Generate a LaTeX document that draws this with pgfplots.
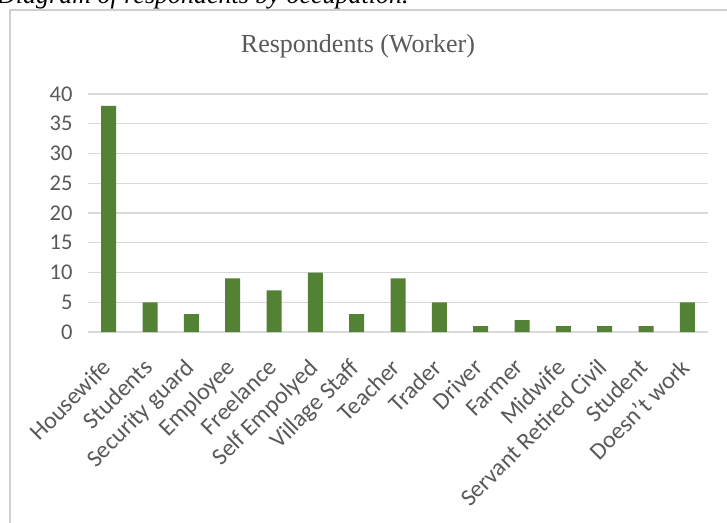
\documentclass[border=0pt]{standalone}
\usepackage{fontspec}
\setmainfont{Carlito}
\newfontfamily\serifft{Liberation Serif}
\usepackage{pgfplots}
\pgfplotsset{compat=1.18}
\definecolor{bargreen}{RGB}{84,130,53}
\definecolor{txtgray}{RGB}{89,89,89}
\definecolor{gridgray}{RGB}{217,217,217}
\definecolor{boxgray}{RGB}{208,208,208}
\begin{document}
\begin{tikzpicture}
\fill[white] (0pt,0pt) rectangle (727pt,522pt);
\draw[boxgray, line width=1.2pt] (10pt,-10pt) -- (10pt,512pt) -- (740pt,512pt);
\node[anchor=base west, inner sep=0pt, font=\serifft\itshape\fontsize{26}{26}\selectfont] at (-3pt,518pt) {Diagram of respondents by occupation.};
\node[anchor=base, inner sep=0pt, text=txtgray, font=\serifft\fontsize{26}{26}\selectfont] at (358pt,469pt) {Respondents (Worker)};
\begin{axis}[
  at={(88pt,190pt)}, anchor=south west,
  scale only axis, width=620pt, height=238pt,
  xmin=-0.5, xmax=14.5, ymin=0, ymax=40,
  ytick={0,5,...,40},
  xtick={0,...,14},
  xticklabels={Housewife,Students,Security guard,Employee,Freelance,Self Empolyed,Village Staff,Teacher,Trader,Driver,Farmer,Midwife,Servant Retired Civil,Student,Doesn't work},
  axis line style={draw=none},
  ymajorgrids, grid style={gridgray, line width=1.2pt},
  major tick length=0pt,
  tick style={draw=none},
  /pgf/number format/assume math mode=true,
  ticklabel style={text=txtgray, font=\fontsize{22.5}{22.5}\selectfont},
  yticklabel style={anchor=east, xshift=-12pt},
  xticklabel style={rotate=45, anchor=north east, inner sep=2pt, xshift=-21.5pt, yshift=-10pt, font=\fontsize{24}{24}\selectfont},
  clip=false,
]
\draw[gridgray, line width=1.2pt] (axis cs:-0.5,0) -- (axis cs:14.5,0);
\addplot[ybar, bar width=15pt, fill=bargreen, draw=none] coordinates {
(0,38) (1,5) (2,3) (3,9) (4,7) (5,10) (6,3) (7,9) (8,5) (9,1) (10,2) (11,1) (12,1) (13,1) (14,5)
};
\end{axis}
\pgfresetboundingbox
\path[use as bounding box] (0pt,0pt) rectangle (727pt,522pt);
\end{tikzpicture}
\end{document}
